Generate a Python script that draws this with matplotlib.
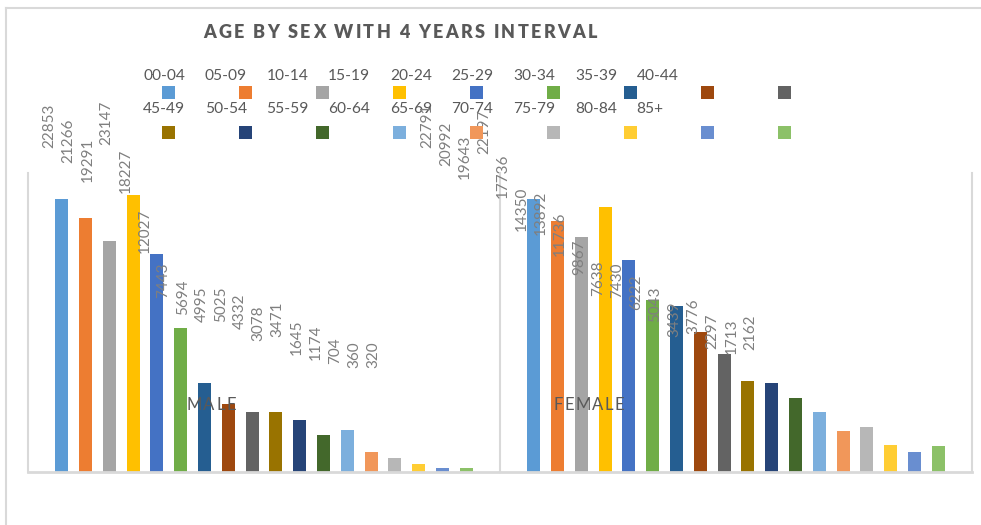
"""
Gráfico de colunas: idade por sexo em intervalos de 4 anos.

Reproduz um gráfico exportado do Excel em que os rótulos de dados, os
rótulos de categoria e os textos da legenda ficaram numa camada reduzida
(~80%) em relação às barras.
"""

import matplotlib
matplotlib.use("Agg")
import matplotlib.pyplot as plt
from matplotlib.lines import Line2D
from matplotlib.patches import Rectangle
from matplotlib.font_manager import FontProperties


# ---------------------------------------------------------------------------
# Dados
# ---------------------------------------------------------------------------
FAIXAS = ["00-04", "05-09", "10-14", "15-19", "20-24", "25-29", "30-34",
          "35-39", "40-44", "45-49", "50-54", "55-59", "60-64", "65-69",
          "70-74", "75-79", "80-84", "85+"]
SEXOS = ["MALE", "FEMALE"]
MASCULINO = [22853, 21266, 19291, 23147, 18227, 12027, 7443, 5694, 4995,
             5025, 4332, 3078, 3471, 1645, 1174, 704, 360, 320]
FEMININO = [22791, 20992, 19643, 22197, 17736, 14350, 13892, 11736, 9867,
            7638, 7430, 6222, 5043, 3439, 3776, 2297, 1713, 2162]
TITULO = "AGE BY SEX WITH 4 YEARS INTERVAL"

# Paleta padrão do Excel (18 séries)
CORES = ["#5b9bd5", "#ed7d31", "#a5a5a5", "#ffc000", "#4472c4", "#70ad47",
         "#255e91", "#9e480e", "#636363", "#997300", "#264478", "#43682b",
         "#7cafdd", "#f1975a", "#b7b7b7", "#ffcd33", "#698ed0", "#8cc168"]

# ---------------------------------------------------------------------------
# Estilo / layout (em pixels, origem no canto superior esquerdo)
# ---------------------------------------------------------------------------
L, A = 981, 525
TINTA = "#595959"
ROTULO = "#7f7f7f"
LINHA = "#d9d9d9"
FONTE = "Lato"

ESCALA_X, ESCALA_Y, DESLOC_Y = 0.8, 0.818, -15  # camada de rótulos reduzida
SLOT, LARGURA_BARRA = 0.0504, 0.0275


def fx(px):
    return px / L


def fy(py):
    return 1 - py / A


def largura_texto(renderer, s, prop):
    w, _, _ = renderer.get_text_width_height_descent(s, prop, ismath=False)
    return w


def texto_espacado(fig, cx, base, s, largura, prop, cor):
    """Escreve s centrado em cx com espaçamento entre letras até 'largura' px."""
    r = fig.canvas.get_renderer()
    wi = largura_texto(r, "I", prop)
    natural = largura_texto(r, s, prop)
    passo = (largura - natural) / (len(s) - 1)
    x0 = cx - largura / 2
    for i, c in enumerate(s):
        if c == " ":
            continue
        pos = largura_texto(r, s[:i] + "I", prop) - wi if i else 0
        fig.text(fx(x0 + pos + i * passo), fy(base), c, fontproperties=prop,
                 color=cor, ha="left", va="baseline")


fig = plt.figure(figsize=(L / 100, A / 100), dpi=100, facecolor="white")
ax = fig.add_axes([fx(28), fy(472), fx(944), 299 / A])
ax.set_xlim(-0.5, 1.5)
ax.set_ylim(0, 25000)
ax.axis("off")

# Barras
for i, faixa in enumerate(FAIXAS):
    xs = [k + (i - 8.5) * SLOT for k in range(len(SEXOS))]
    ax.bar(xs, [MASCULINO[i], FEMININO[i]], LARGURA_BARRA, color=CORES[i],
           label=faixa, zorder=2)

# Linhas do eixo / divisórias de categoria
for xv in (-0.5, 0.5, 1.5):
    ax.axvline(xv, color=LINHA, linewidth=1.5, zorder=1, clip_on=False)
ax.axhline(0, color=LINHA, linewidth=2, zorder=3, clip_on=False)

# Borda (parcial) da área do gráfico
fig.add_artist(Line2D([fx(6), 1], [fy(8), fy(8)], color=LINHA, linewidth=1.5))
fig.add_artist(Line2D([fx(6), fx(6)], [fy(8), 0], color=LINHA, linewidth=1.5))

# Rótulos de dados, na camada reduzida
prop_rot = FontProperties(family=FONTE, size=11)
for i in range(len(FAIXAS)):
    for k, v in enumerate([MASCULINO[i], FEMININO[i]]):
        xd, yd = ax.transData.transform((k + (i - 8.5) * SLOT, v))
        topo = A - yd
        fig.text(fx(ESCALA_X * xd), fy(ESCALA_Y * topo + DESLOC_Y), str(v),
                 fontproperties=prop_rot, color=ROTULO, rotation=90,
                 ha="center", va="bottom", zorder=4)

# Rótulos de categoria (dentro da área, também na camada reduzida)
prop_cat = FontProperties(family=FONTE, size=12)
for k, (sexo, larg) in enumerate(zip(SEXOS, (50, 71))):
    xd, _ = ax.transData.transform((k, 0))
    texto_espacado(fig, ESCALA_X * xd, 410, sexo, larg, prop_cat, TINTA)

# Título
prop_tit = FontProperties(family=FONTE, size=13, weight="heavy")
texto_espacado(fig, 400, 38.5, TITULO, 394, prop_tit, TINTA)

# Legenda: quadrados e textos desalinhados, como no original
prop_leg = FontProperties(family=FONTE, size=11.2)
for i, faixa in enumerate(FAIXAS):
    linha, col = divmod(i, 9)
    sx, sy = 162 + 77 * col, 86 + 40 * linha
    fig.add_artist(Rectangle((fx(sx), fy(sy + 13)), 13 / L, 13 / A,
                             facecolor=CORES[i], edgecolor="none", zorder=5))
    fig.text(fx(143 + 61.7 * col), fy(80 + 33 * linha), faixa,
             fontproperties=prop_leg, color=TINTA, ha="left", va="baseline")

fig.savefig("out.png", dpi=100, facecolor="white")
